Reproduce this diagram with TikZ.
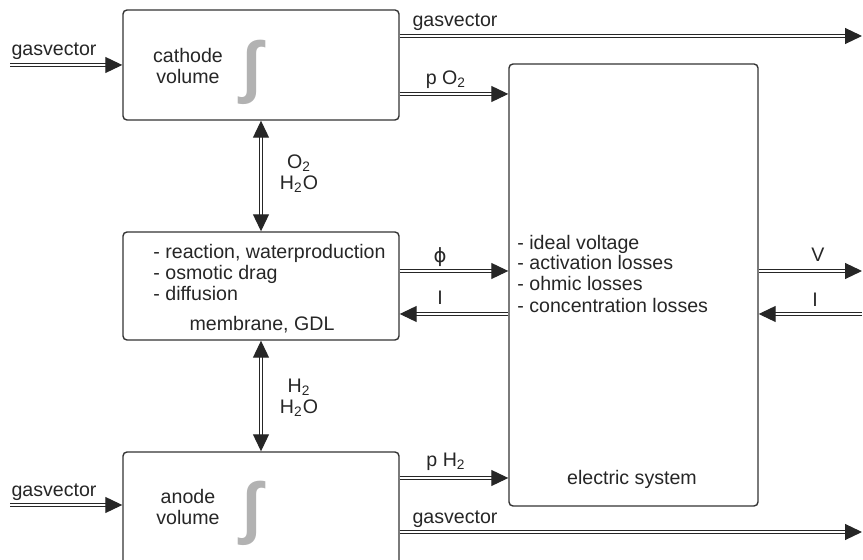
\documentclass[tikz,border=0pt]{standalone}
\usepackage{fontspec}
\setmainfont{Liberation Sans}
\newfontfamily\symfont{DejaVu Sans}
\usetikzlibrary{arrows.meta,positioning}

\begin{document}
\begin{tikzpicture}[x=0.5pt, y=-0.5pt, font=\fontsize{9.8}{10.5}\selectfont,
  blk/.style={draw=black!80, line width=0.7pt, rounded corners=2pt, inner sep=0pt},
  txt/.style={align=center, inner sep=1pt, text=black!85},
  lst/.style={align=left, anchor=west, inner sep=0pt, text=black!85},
  igr/.style={text=black!30, inner sep=0pt, font=\fontsize{34}{34}\selectfont\bfseries},
  dbl/.style={double, double distance=1.3pt, line width=0.55pt, draw=black!85,
              -{Triangle[length=8.5pt, width=8pt]}},
  ddbl/.style={dbl, {Triangle[length=8.5pt, width=8pt]}-{Triangle[length=8.5pt, width=8pt]}}]

\useasboundingbox (0,0) rectangle (863,560);
\clip (0,0) rectangle (863,560);

% the four blocks
\node[blk, minimum width=138pt, minimum height=55pt] (cath) at (261,65) {};
\node[blk, minimum width=138pt, minimum height=54pt] (mem) at (261,286) {};
\node[blk, minimum width=138pt, minimum height=61.5pt] (anode) at (261,513.5) {};
\node[blk, minimum width=124.5pt, minimum height=221pt] (elec) at (633.5,285) {};

% what stands inside them
\node[txt] (cathtxt) at (188,66) {cathode\\volume};
\node[igr] (cathint) at (252,72) {∫};
\node[lst] (memlist) at (153,273) {- reaction, waterproduction\\- osmotic drag\\- diffusion};
\node[txt] (memname) at (262,325) {membrane, GDL};
\node[txt] (anodetxt) at (188,507) {anode\\volume};
\node[igr] (anodeint) at (252,513) {∫};
\node[lst] (eleclist) at (517,273.5) {- ideal voltage\\- activation losses\\- ohmic losses\\- concentration losses};
\node[txt] (elecname) at (632,479) {electric system};

% free ends and rows of the connectors
\coordinate (gin1) at (10,65);
\coordinate (gout1) at (862,36);
\coordinate (yo2) at (0,94);
\coordinate (yphi) at (0,271);
\coordinate (ycur) at (0,314);
\coordinate (vout) at (862,271);
\coordinate (iin) at (862,314);
\coordinate (gin2) at (10,505);
\coordinate (yh2) at (0,478);
\coordinate (gout2) at (862,532);

% connectors
\draw[dbl] (gin1) -- (cath.west);
\draw[dbl] (cath.east |- gout1) -- (gout1);
\draw[dbl] (cath.east |- yo2) -- (elec.west |- yo2);
\draw[ddbl] (cath.south) -- (mem.north);
\draw[dbl] (mem.east |- yphi) -- (elec.west |- yphi);
\draw[dbl] (elec.west |- ycur) -- (mem.east |- ycur);
\draw[dbl] (elec.east |- yphi) -- (vout);
\draw[dbl] (iin) -- (elec.east |- ycur);
\draw[ddbl] (mem.south) -- (anode.north);
\draw[dbl] (gin2) -- (anode.west |- gin2);
\draw[dbl] (anode.east |- yh2) -- (elec.west |- yh2);
\draw[dbl] (anode.east |- gout2) -- (gout2);

% labels on the connectors
\node[txt] (lgin1) at (54,51) {gasvector};
\node[txt] (lgout1) at (455,22) {gasvector};
\node[txt] (lo2) at (446,80) {p O\textsubscript{2}};
\node[txt] (lcathmem) at (299,174) {O\textsubscript{2}\\H\textsubscript{2}O};
\node[txt] (lphi) at (440,257) {\symfont ϕ};
\node[txt] (lcur) at (440,298) {I};
\node[txt] (lv) at (818,255) {V};
\node[txt] (lcurr) at (815,300) {I};
\node[txt] (lmemanode) at (299,398) {H\textsubscript{2}\\H\textsubscript{2}O};
\node[txt] (lgin2) at (54,492) {gasvector};
\node[txt] (lh2) at (446,462) {p H\textsubscript{2}};
\node[txt] (lgout2) at (455,519) {gasvector};
\end{tikzpicture}
\end{document}
